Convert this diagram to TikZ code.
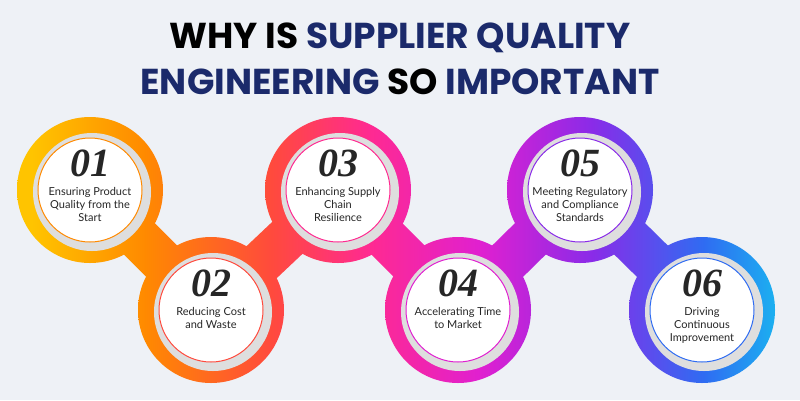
\documentclass[tikz,border=0pt]{standalone}
\usepackage{fontspec}
\setmainfont{Lato}
\newfontfamily\titlefont{Poppins}
\newfontfamily\numfont{Liberation Serif}
\usetikzlibrary{calc}

\definecolor{bgcol}{HTML}{EEF1F6}
\definecolor{navy}{HTML}{1B2A6B}
\definecolor{cA}{HTML}{FFC400}
\definecolor{cB}{HTML}{FF8A00}
\definecolor{cC}{HTML}{FF4A3D}
\definecolor{cD}{HTML}{FF2A90}
\definecolor{cE}{HTML}{E020D0}
\definecolor{cF}{HTML}{8A2BE8}
\definecolor{cG}{HTML}{2F6CF2}
\definecolor{cH}{HTML}{19B8F0}
\pgfdeclarehorizontalshading{chain}{100bp}{color(0bp)=(cA); color(27bp)=(cA); color(34bp)=(cB); color(42bp)=(cC); color(48bp)=(cD); color(55bp)=(cE); color(62bp)=(cF); color(69bp)=(cG); color(74bp)=(cH); color(100bp)=(cH)}

\tikzset{
  shadowdisc/.style={circle, fill=black!13, minimum size=118pt, inner sep=0pt},
  whitedisc/.style={circle, fill=white, draw=#1, line width=1pt, minimum size=104pt, inner sep=0pt},
  numtext/.style={font=\numfont\bfseries\itshape\fontsize{40}{40}\selectfont, text=black!85},
  steptext/.style={font=\fontsize{11}{13}\selectfont, align=center, text=black!85}
}

\begin{document}
\begin{tikzpicture}[x=1pt,y=-1pt]
  \fill[bgcol] (0,0) rectangle (800,400);
  \useasboundingbox (0,0) rectangle (800,400);
  % Title
  \node[font=\titlefont\bfseries\fontsize{36}{36}\selectfont] (title1) at (400,38)
    {WHY IS \textcolor{navy}{SUPPLIER QUALITY}};
  \node[font=\titlefont\bfseries\fontsize{36}{36}\selectfont] (title2) at (400,82)
    {\textcolor{navy}{ENGINEERING} SO \textcolor{navy}{IMPORTANT}};
  % Centres of the six circles
  \coordinate (c1) at (90,190);
  \coordinate (c2) at (211,310);
  \coordinate (c3) at (338,190);
  \coordinate (c4) at (458,310);
  \coordinate (c5) at (580,190);
  \coordinate (c6) at (702,310);
  % Coloured chain: every piece clipped and shaded from one band
  \foreach \a/\b in {c1/c2,c2/c3,c3/c4,c4/c5,c5/c6}{
    \begin{scope}
      \clip ($(\a)!22pt!90:(\b)$) -- ($(\a)!22pt!-90:(\b)$)
        -- ($(\b)!22pt!90:(\a)$) -- ($(\b)!22pt!-90:(\a)$) -- cycle;
      \shade[shading=chain] (0,0) rectangle (800,400);
    \end{scope}
  }
  \foreach \a in {c1,c2,c3,c4,c5,c6}{
    \begin{scope}
      \clip (\a) circle (73);
      \shade[shading=chain] (0,0) rectangle (800,400);
    \end{scope}
  }
  % Inner discs
  \foreach \a/\col/\num/\txt in {
      c1/cB/01/{Ensuring Product\\Quality from the\\Start},
      c2/cC/02/{Reducing Cost\\and Waste},
      c3/cD/03/{Enhancing Supply\\Chain\\Resilience},
      c4/cE/04/{Accelerating Time\\to Market},
      c5/cF/05/{Meeting Regulatory\\and Compliance\\Standards},
      c6/cG/06/{Driving\\Continuous\\Improvement}}{
    \node[shadowdisc] (sh\a) at ($(\a)+(2,2)$) {};
    \node[whitedisc=\col] (in\a) at (\a) {};
    \node[numtext] (num\a) at ($(\a)+(0,-27)$) {\num};
    \node[steptext, anchor=north] (txt\a) at ($(\a)+(0,-6)$) {\txt};
  }
\end{tikzpicture}
\end{document}
